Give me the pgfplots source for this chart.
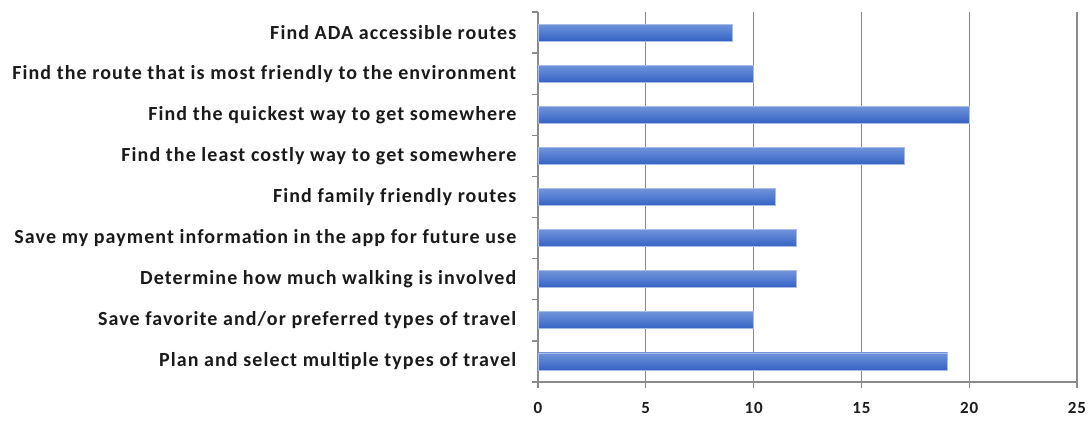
\documentclass[border=0pt]{standalone}
\usepackage{pgfplots}
\pgfplotsset{compat=1.18}
\usepackage{fontspec}
\setmainfont{Carlito}[LetterSpace=5.5]
\definecolor{gridgray}{HTML}{8A8A8A}
\definecolor{txt}{HTML}{1A1A1A}
\definecolor{bartop}{HTML}{7093DB}
\definecolor{barmid}{HTML}{527CD0}
\definecolor{barbot}{HTML}{3561C2}
\definecolor{baredge}{HTML}{A8BCE8}
\begin{document}
\begin{tikzpicture}
\useasboundingbox (-538bp,-42bp) rectangle (553bp,382bp);
\begin{axis}[
  at={(0,0)}, anchor=south west,
  scale only axis, width=539bp, height=370bp,
  xmin=0, xmax=25, ymin=0.5, ymax=9.5,
  xtick={0,5,10,15,20,25},
  ytick={1,...,9},
  yticklabels={Plan and select multiple types of travel,
    Save favorite and/or preferred types of travel,
    Determine how much walking is involved,
    Save my payment information in the app for future use,
    Find family friendly routes,
    Find the least costly way to get somewhere,
    Find the quickest way to get somewhere,
    Find the route that is most friendly to the environment,
    Find ADA accessible routes},
  minor ytick={0.5,1.5,...,9.5},
  axis x line*=bottom, axis y line*=left,
  axis line style={gridgray, line width=1.3bp},
  tick align=outside,
  tick style={gridgray, line width=1.3bp},
  major tick length=6bp, minor tick length=6bp,
  y tick style={draw=none},
  minor y tick style={draw=gridgray, line width=1.3bp},
  xmajorgrids, major grid style={gridgray, line width=1.3bp},
  ymajorgrids=false,
  /pgf/number format/assume math mode=true,
  tick label style={font=\bfseries\fontsize{20bp}{23bp}\selectfont, text=txt},
  yticklabel style={inner sep=0pt, xshift=-15.5bp},
  xticklabel style={inner sep=0pt, yshift=-14bp, font=\bfseries\fontsize{17bp}{20bp}\selectfont},
  xbar, bar width=17bp, bar shift=0pt,
  enlargelimits=false, clip=false,
  mybar/.style={draw=baredge, line width=0.8bp, shading=axis,
    top color=bartop, bottom color=barbot, middle color=barmid},
]
\addplot[mybar] coordinates {(19,1)};
\addplot[mybar] coordinates {(10,2)};
\addplot[mybar] coordinates {(12,3)};
\addplot[mybar] coordinates {(12,4)};
\addplot[mybar] coordinates {(11,5)};
\addplot[mybar] coordinates {(17,6)};
\addplot[mybar] coordinates {(20,7)};
\addplot[mybar] coordinates {(10,8)};
\addplot[mybar] coordinates {(9,9)};
\end{axis}
\end{tikzpicture}
\end{document}
